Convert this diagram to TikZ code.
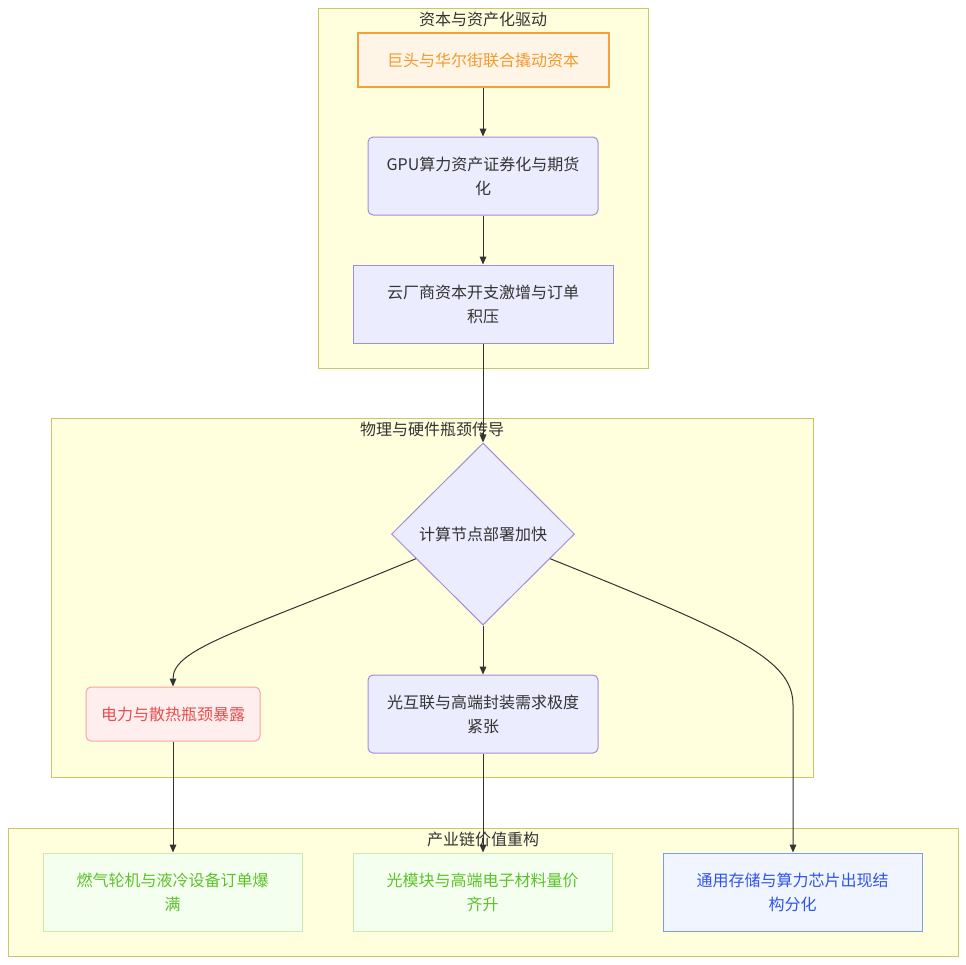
\documentclass[tikz,border=0pt]{standalone}
\usepackage{fontspec}
\setmainfont{Noto Sans CJK SC}
\usetikzlibrary{shapes.geometric,arrows.meta,calc}
\definecolor{clfill}{HTML}{FFFFDE}
\definecolor{clline}{HTML}{C8C86A}
\definecolor{ndfill}{HTML}{ECECFF}
\definecolor{ndline}{HTML}{A48BDB}
\definecolor{txt}{HTML}{333333}
\definecolor{orfill}{HTML}{FFF5E6}
\definecolor{orline}{HTML}{F5A03C}
\definecolor{ortext}{HTML}{F39A2F}
\definecolor{rdfill}{HTML}{FFEEEE}
\definecolor{rdline}{HTML}{FF9F9F}
\definecolor{rdtext}{HTML}{E84D4D}
\definecolor{grfill}{HTML}{F4FFEF}
\definecolor{grline}{HTML}{C6EDB0}
\definecolor{grtext}{HTML}{5CC22A}
\definecolor{blfill}{HTML}{F0F5FF}
\definecolor{blline}{HTML}{7C9CE8}
\definecolor{bltext}{HTML}{2F54EB}
\definecolor{edge}{HTML}{333333}
\begin{document}
\begin{tikzpicture}[x=0.75pt,y=-0.75pt,
  font=\fontsize{12pt}{18pt}\selectfont,
  cluster/.style={draw=clline,fill=clfill,line width=0.75pt},
  ctitle/.style={text=txt,inner sep=0pt,anchor=center},
  box/.style 2 args={rectangle,minimum width=#1*0.75pt,minimum height=#2*0.75pt,inner sep=0pt,align=center,line width=0.75pt},
  plain/.style={draw=ndline,fill=ndfill,text=txt},
  orange/.style={draw=orline,fill=orfill,text=ortext,line width=1.5pt},
  red/.style={draw=rdline,fill=rdfill,text=rdtext,rounded corners=3.75pt},
  green/.style={draw=grline,fill=grfill,text=grtext},
  blue/.style={draw=blline,fill=blfill,text=bltext},
  arr/.style={draw=edge,line width=0.75pt,-{Triangle[length=6pt,width=5pt]}}
]
\useasboundingbox[fill=white] (0,0) rectangle (966,964);
% clusters
\draw[cluster] (318,8) rectangle (648,368);
\node[ctitle] (t1) at (483,19) {资本与资产化驱动};
\draw[cluster] (51,418) rectangle (813,777);
\node[ctitle] (t2) at (432,429) {物理与硬件瓶颈传导};
\draw[cluster] (8,828) rectangle (958,956);
\node[ctitle] (t3) at (483,839) {产业链价值重构};
% nodes
\node[box={251}{54},orange] (A) at (483,60) {巨头与华尔街联合撬动资本};
\node[box={230}{78},plain,rounded corners=3.75pt] (B) at (483,176) {GPU算力资产证券化与期货\\化};
\node[box={260}{78},plain] (C) at (483,304) {云厂商资本开支激增与订单\\积压};
\node[diamond,draw=ndline,fill=ndfill,text=txt,line width=0.75pt,minimum width=183*0.75pt,minimum height=182*0.75pt,inner sep=0pt,aspect=1] (D) at (483,534) {计算节点部署加快};
\node[box={174}{54},red] (E) at (173,714) {电力与散热瓶颈暴露};
\node[box={230}{78},plain,rounded corners=3.75pt] (F) at (483,714) {光互联与高端封装需求极度\\紧张};
\node[box={259}{78},green] (G) at (172.5,892) {燃气轮机与液冷设备订单爆\\满};
\node[box={259}{78},green] (H) at (482.5,892) {光模块与高端电子材料量价\\齐升};
\node[box={259}{78},blue] (I) at (792.5,892) {通用存储与算力芯片出现结\\构分化};
% edges
\draw[arr] (A) -- (B);
\draw[arr] (B) -- (C);
\draw[arr] (C) -- (D);
\coordinate (dl) at ($(D.west)!0.27!(D.south)$);
\coordinate (dr) at ($(D.east)!0.27!(D.south)$);
\draw[arr] (dl) .. controls (240,632) and (173,648) .. (E.north);
\draw[arr] (D) -- (F);
\draw[arr] (dr) .. controls (740,635) and (793,660) .. (793,705) -- (I.north -| 793,0);
\draw[arr] (E) -- (G.north -| E.south);
\draw[arr] (F) -- (H.north -| F.south);
\end{tikzpicture}
\end{document}
